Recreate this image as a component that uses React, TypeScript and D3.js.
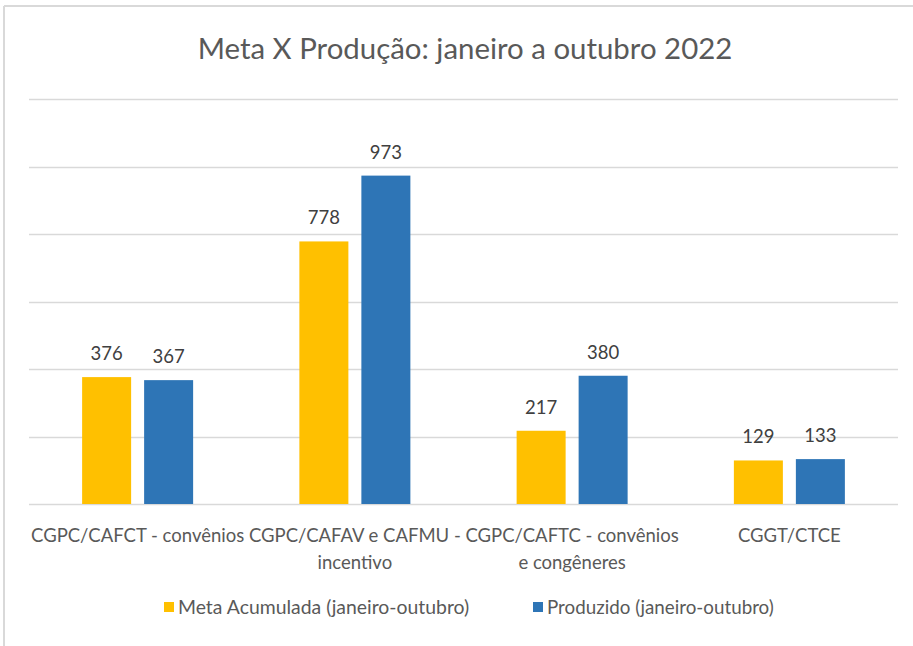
import React from "react";
import * as d3 from "d3";

const categories: string[][] = [
  ["CGPC/CAFCT - convênios"],
  ["CGPC/CAFAV e CAFMU -", "incentivo"],
  ["CGPC/CAFTC - convênios", "e congêneres"],
  ["CGGT/CTCE"],
];
const metaValues = [376, 778, 217, 129];
const produzidoValues = [367, 973, 380, 133];
const seriesNames = ["Meta Acumulada (janeiro-outubro)", "Produzido (janeiro-outubro)"];
const yTicks = [0, 200, 400, 600, 800, 1000, 1200];

const W = 913;
const H = 646;
const FONT = "Lato, 'Open Sans', sans-serif";
const colors = ["#FFC000", "#2E75B6"];

export default function App() {
  const plotLeft = 29;
  const plotRight = 898;
  const plotTop = 99;
  const plotBottom = 504;

  const x = d3
    .scaleBand<number>()
    .domain(d3.range(categories.length))
    .range([plotLeft, plotRight])
    .paddingInner(0)
    .paddingOuter(0);
  const y = d3.scaleLinear().domain([0, 1200]).range([plotBottom, plotTop]);

  const barW = 49;
  const gap = 13;
  const series = [metaValues, produzidoValues];

  return (
    <svg
      width={W}
      height={H}
      style={{ position: "absolute", left: 0, top: 0, background: "#fff" }}
      fontFamily={FONT}
    >
      <rect x={0} y={0} width={W} height={H} fill="#fff" />
      <line x1={4} y1={6} x2={W} y2={6} stroke="#d9d9d9" strokeWidth={2} />
      <line x1={4} y1={6} x2={4} y2={H} stroke="#d9d9d9" strokeWidth={2} />

      <text x={465} y={59} textAnchor="middle" fontSize={29.4} fill="#595959">
        Meta X Produção: janeiro a outubro 2022
      </text>

      {yTicks.map((t) => (
        <line
          key={t}
          x1={plotLeft}
          x2={plotRight}
          y1={Math.round(y(t)) + 0.5}
          y2={Math.round(y(t)) + 0.5}
          stroke="#d9d9d9"
          strokeWidth={1.3}
        />
      ))}

      {categories.map((_, i) => {
        const cx = (x(i) as number) + x.bandwidth() / 2;
        return series.map((vals, s) => {
          const bx = s === 0 ? cx - gap / 2 - barW : cx + gap / 2;
          const v = vals[i];
          return (
            <g key={`${i}-${s}`}>
              <rect x={bx} y={y(v)} width={barW} height={plotBottom - y(v)} fill={colors[s]} />
              <text
                x={bx + barW / 2}
                y={y(v) - 17}
                textAnchor="middle"
                fontSize={18.5}
                fill="#404040"
              >
                {v}
              </text>
            </g>
          );
        });
      })}

      {categories.map((lines, i) => {
        const cx = (x(i) as number) + x.bandwidth() / 2;
        return (
          <text key={i} textAnchor="middle" fontSize={18.5} fill="#595959">
            {lines.map((l, k) => (
              <tspan key={k} x={cx} y={542 + k * 27}>
                {l}
              </tspan>
            ))}
          </text>
        );
      })}

      <rect x={164} y={602} width={10} height={10} fill={colors[0]} />
      <text x={178} y={614} fontSize={19.4} fill="#595959">
        {seriesNames[0]}
      </text>
      <rect x={533} y={602} width={10} height={10} fill={colors[1]} />
      <text x={547} y={614} fontSize={18.8} fill="#595959">
        {seriesNames[1]}
      </text>
    </svg>
  );
}
